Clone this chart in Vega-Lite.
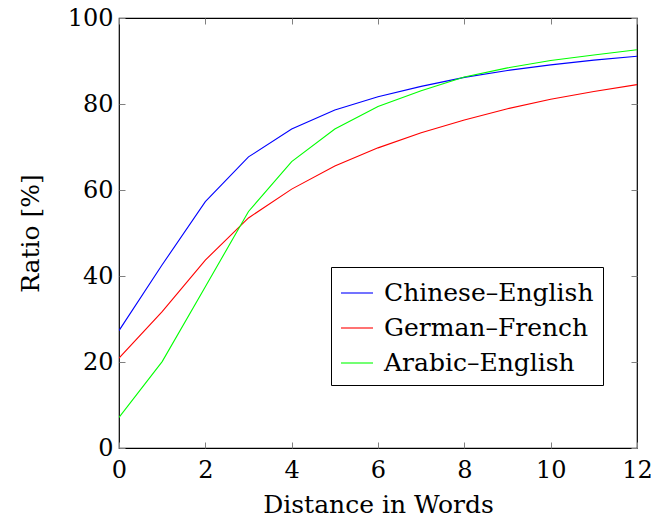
{
  "$schema": "https://vega.github.io/schema/vega-lite/v6.json",
  "autosize": "none",
  "width": 518,
  "height": 430,
  "padding": {"left": 119, "top": 18, "right": 14, "bottom": 74},
  "background": "white",
  "config": {
    "view": {"stroke": "black", "strokeWidth": 1.2},
    "axis": {
      "labelFontSize": 24,
      "titleFontSize": 25,
      "titleFontWeight": "normal",
      "labelColor": "black",
      "titleColor": "black",
      "domain": false,
      "grid": false,
      "tickColor": "#808080",
      "tickSize": -6,
      "tickWidth": 1
    }
  },
  "data": {
    "values": [
      {"d": 0, "ratio": 27.3, "pair": "Chinese–English"},
      {"d": 1, "ratio": 42.6, "pair": "Chinese–English"},
      {"d": 2, "ratio": 57.3, "pair": "Chinese–English"},
      {"d": 3, "ratio": 67.7, "pair": "Chinese–English"},
      {"d": 4, "ratio": 74.2, "pair": "Chinese–English"},
      {"d": 5, "ratio": 78.6, "pair": "Chinese–English"},
      {"d": 6, "ratio": 81.7, "pair": "Chinese–English"},
      {"d": 7, "ratio": 84.1, "pair": "Chinese–English"},
      {"d": 8, "ratio": 86.2, "pair": "Chinese–English"},
      {"d": 9, "ratio": 87.8, "pair": "Chinese–English"},
      {"d": 10, "ratio": 89.1, "pair": "Chinese–English"},
      {"d": 11, "ratio": 90.2, "pair": "Chinese–English"},
      {"d": 12, "ratio": 91.1, "pair": "Chinese–English"},
      {"d": 0, "ratio": 20.9, "pair": "German–French"},
      {"d": 1, "ratio": 31.7, "pair": "German–French"},
      {"d": 2, "ratio": 43.7, "pair": "German–French"},
      {"d": 3, "ratio": 53.5, "pair": "German–French"},
      {"d": 4, "ratio": 60.2, "pair": "German–French"},
      {"d": 5, "ratio": 65.6, "pair": "German–French"},
      {"d": 6, "ratio": 69.8, "pair": "German–French"},
      {"d": 7, "ratio": 73.3, "pair": "German–French"},
      {"d": 8, "ratio": 76.3, "pair": "German–French"},
      {"d": 9, "ratio": 78.9, "pair": "German–French"},
      {"d": 10, "ratio": 81.1, "pair": "German–French"},
      {"d": 11, "ratio": 82.9, "pair": "German–French"},
      {"d": 12, "ratio": 84.5, "pair": "German–French"},
      {"d": 0, "ratio": 7.1, "pair": "Arabic–English"},
      {"d": 1, "ratio": 20.1, "pair": "Arabic–English"},
      {"d": 2, "ratio": 37.5, "pair": "Arabic–English"},
      {"d": 3, "ratio": 55.0, "pair": "Arabic–English"},
      {"d": 4, "ratio": 66.6, "pair": "Arabic–English"},
      {"d": 5, "ratio": 74.2, "pair": "Arabic–English"},
      {"d": 6, "ratio": 79.4, "pair": "Arabic–English"},
      {"d": 7, "ratio": 83.1, "pair": "Arabic–English"},
      {"d": 8, "ratio": 86.3, "pair": "Arabic–English"},
      {"d": 9, "ratio": 88.4, "pair": "Arabic–English"},
      {"d": 10, "ratio": 90.1, "pair": "Arabic–English"},
      {"d": 11, "ratio": 91.4, "pair": "Arabic–English"},
      {"d": 12, "ratio": 92.6, "pair": "Arabic–English"}
    ]
  },
  "resolve": {"axis": {"x": "independent", "y": "independent"}},
  "layer": [
    {
      "mark": {"type": "line", "strokeWidth": 1.1, "clip": true},
      "encoding": {
        "x": {
          "field": "d",
          "type": "quantitative",
          "scale": {"domain": [0, 12], "nice": false, "zero": false},
          "axis": {"values": [0, 2, 4, 6, 8, 10, 12], "title": "Distance in Words", "labelFont": "DejaVu Serif", "titleFont": "DejaVu Serif", "labelPadding": 16, "titlePadding": 10, "labelFlush": false}
        },
        "y": {
          "field": "ratio",
          "type": "quantitative",
          "scale": {"domain": [0, 100], "nice": false},
          "axis": {"values": [0, 20, 40, 60, 80, 100], "title": "Ratio [%]", "labelFont": "DejaVu Serif", "titleFont": "DejaVu Serif", "labelPadding": 12, "titlePadding": 24, "labelFlush": false}
        },
        "color": {
          "field": "pair",
          "type": "nominal",
          "sort": ["Chinese–English", "German–French", "Arabic–English"],
          "scale": {"domain": ["Chinese–English", "German–French", "Arabic–English"], "range": ["#0000ff", "#ff0000", "#00ff00"]},
          "legend": {
            "title": null,
            "orient": "none",
            "legendX": 212,
            "legendY": 249,
            "direction": "vertical",
            "symbolType": "stroke",
            "symbolSize": 1024,
            "symbolStrokeWidth": 1.1,
            "labelFont": "DejaVu Serif",
            "labelFontSize": 25,
            "labelColor": "black",
            "labelOffset": 10,
            "rowPadding": 5,
            "padding": 9,
            "strokeColor": "black",
            "fillColor": "white",
            "labelLimit": 400
          }
        }
      }
    },
    {
      "mark": {"type": "rule", "opacity": 0},
      "encoding": {
        "x": {
          "field": "d",
          "type": "quantitative",
          "axis": {"orient": "top", "values": [0, 2, 4, 6, 8, 10, 12], "labels": false, "title": null}
        },
        "y": {
          "field": "ratio",
          "type": "quantitative",
          "axis": {"orient": "right", "values": [0, 20, 40, 60, 80, 100], "labels": false, "title": null}
        }
      }
    }
  ]
}
